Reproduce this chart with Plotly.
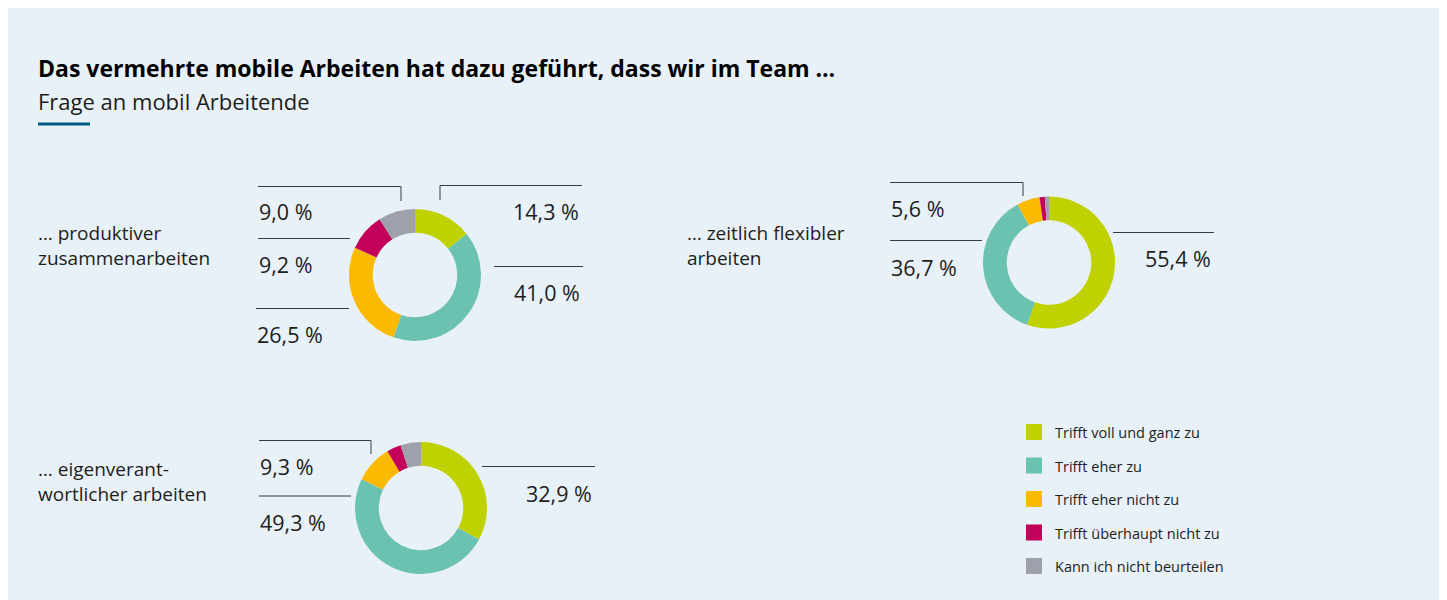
import plotly.graph_objects as go

# Figure is placed by the page at (8, 8); coordinates below are page pixels
OFF = 8
W, H = 1447 - OFF, 600 - OFF

categories = ["Trifft voll und ganz zu", "Trifft eher zu", "Trifft eher nicht zu",
              "Trifft überhaupt nicht zu", "Kann ich nicht beurteilen"]
colors = ["#BFD200", "#6CC2B1", "#FBBA00", "#C3005A", "#9EA1AC"]

questions = ["… produktiver<br>zusammenarbeiten",
             "… zeitlich flexibler<br>arbeiten",
             "… eigenverant-<br>wortlicher arbeiten"]
values_produktiv = [14.3, 41.0, 26.5, 9.2, 9.0]
values_flexibel = [55.4, 36.7, 5.6, 1.3, 1.0]
values_eigen = [32.9, 49.3, 9.3, 3.5, 5.0]

title = "Das vermehrte mobile Arbeiten hat dazu geführt, dass wir im Team …"
subtitle = "Frage an mobil Arbeitende"

FONT = "Open Sans"
TXT = "#1d1d1b"
LINE = "#3a3a3a"
BG = "#E8F1F7"


def px(x):
    return (x - OFF) / W


def py(y):
    return 1 - (y - OFF) / H


def fmt(v):
    return f"{v:.1f}".replace(".", ",") + " %"


fig = go.Figure()

donuts = [
    (values_produktiv, 415, 275, 66),
    (values_flexibel, 1049, 262.5, 66),
    (values_eigen, 421, 508, 66),
]
for vals, cx, cy, r in donuts:
    fig.add_trace(go.Pie(
        labels=categories, values=vals, sort=False, direction="clockwise",
        rotation=0, hole=0.64, textinfo="none", hoverinfo="label+value",
        marker=dict(colors=colors, line=dict(width=0)),
        domain=dict(x=[px(cx - r), px(cx + r)], y=[py(cy + r), py(cy - r)]),
        showlegend=False,
    ))

shapes = [
    dict(type="rect", xref="paper", yref="paper", x0=px(38), x1=px(90), y0=py(125.5), y1=py(122.5),
         fillcolor="#005C85", line=dict(width=0)),
]


def seg(x0, y0, x1, y1):
    shapes.append(dict(type="line", xref="paper", yref="paper",
                       x0=px(x0), y0=py(y0), x1=px(x1), y1=py(y1),
                       line=dict(color=LINE, width=1)))


annotations = []


def txt(x, y, s, anchor="left", size=21.5, color=TXT, family=FONT):
    annotations.append(dict(xref="paper", yref="paper", x=px(x), y=py(y), text=s,
                            showarrow=False, xanchor=anchor, yanchor="middle",
                            align=anchor, font=dict(family=family, size=size, color=color)))


# Title
txt(36, 68, "<b>" + title + "</b>", size=23, color="#000000")
txt(36, 101, subtitle, size=22)

# question labels
txt(36, 246, questions[0], size=19)
txt(685, 246, questions[1], size=19)
txt(36, 481, questions[2], size=19)

# Donut 1 leader lines and labels
v = values_produktiv
seg(258, 186.5, 401, 186.5); seg(401, 186.5, 401, 201)
txt(257, 212, fmt(v[4]))
seg(440, 200, 440, 185.5); seg(440, 185.5, 582, 185.5)
txt(581, 211, fmt(v[0]), anchor="right")
seg(494, 266.5, 583, 266.5)
txt(582, 292, fmt(v[1]), anchor="right")
seg(258, 238.5, 350, 238.5)
txt(257, 264, fmt(v[3]))
seg(256, 308.5, 349, 308.5)
txt(255, 334, fmt(v[2]))

# Donut 2
v = values_flexibel
seg(890, 182.5, 1023, 182.5); seg(1023, 182.5, 1023, 196)
txt(889, 208, fmt(v[2]))
seg(890, 240.5, 982, 240.5)
txt(889, 267, fmt(v[1]))
seg(1113, 232.5, 1214, 232.5)
txt(1213, 258, fmt(v[0]), anchor="right")

# Donut 3
v = values_eigen
seg(259, 440.5, 371, 440.5); seg(371, 440.5, 371, 454)
txt(258, 466, fmt(v[2]))
seg(259, 496, 351, 496)
txt(258, 522, fmt(v[1]))
seg(482, 466.5, 595, 466.5)
txt(594, 493, fmt(v[0]), anchor="right")

# Legend
for i, (c, lab) in enumerate(zip(colors, categories)):
    y0 = 424 + i * 33.5
    shapes.append(dict(type="rect", xref="paper", yref="paper",
                       x0=px(1026), x1=px(1042), y0=py(y0 + 16), y1=py(y0),
                       fillcolor=c, line=dict(width=0)))
    txt(1053, y0 + 8.5, lab, size=14.5)

fig.update_layout(
    width=W, height=H, margin=dict(l=0, r=0, t=0, b=0),
    paper_bgcolor=BG, plot_bgcolor=BG,
    shapes=shapes, annotations=annotations, showlegend=False,
    font=dict(family=FONT, color=TXT),
)

fig.write_html("out.html")
